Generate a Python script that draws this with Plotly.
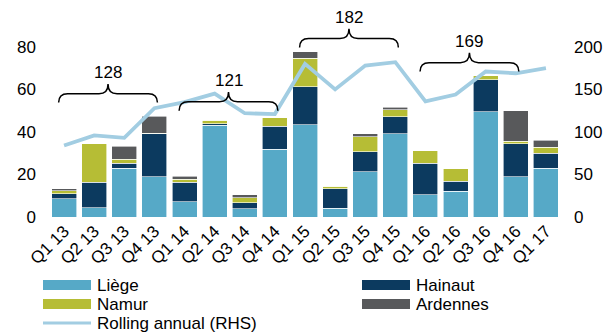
import plotly.graph_objects as go

quarters = ["Q1 13", "Q2 13", "Q3 13", "Q4 13", "Q1 14", "Q2 14", "Q3 14", "Q4 14",
            "Q1 15", "Q2 15", "Q3 15", "Q4 15", "Q1 16", "Q2 16", "Q3 16", "Q4 16", "Q1 17"]
liege = [8.5, 4.4, 22.9, 19.0, 7.2, 43.1, 3.9, 31.8, 43.5, 4.1, 21.3, 39.2, 10.5, 12.1, 49.6, 19.0, 22.9]
hainaut = [2.5, 11.9, 2.4, 20.1, 9.1, 0.8, 2.8, 10.9, 17.8, 9.2, 9.4, 7.9, 14.8, 4.7, 14.9, 15.4, 7.1]
namur = [1.4, 18.2, 1.8, 0.2, 1.4, 1.6, 2.4, 4.0, 13.4, 1.1, 7.1, 3.4, 5.9, 5.8, 2.0, 1.2, 2.9]
ardennes = [0.8, 0.0, 6.2, 8.2, 1.4, 0.0, 1.4, 0.0, 3.1, 0.0, 1.3, 1.1, 0.0, 0.0, 0.0, 14.4, 3.2]
rolling = [84, 96, 93, 128, 135, 145, 122, 121, 180, 150, 178, 182, 136, 144, 171, 169, 175]

left_ticks = [0, 20, 40, 60, 80]
right_ticks = [0, 50, 100, 150, 200]

# annual totals shown over braces: (first quarter index, last quarter index, label)
annual_groups = [(0, 3, "128"), (4, 7, "121"), (8, 11, "182"), (12, 15, "169")]
brace_tip_levels = [53.8, 50.0, 79.7, 68.4]

C_LIEGE = "#56A9C7"
C_HAINAUT = "#0C3A5F"
C_NAMUR = "#B6BD35"
C_ARD = "#58595B"
C_ROLL = "#A2CDE2"
FONT = "Liberation Sans, Arial, sans-serif"

W, H = 613, 332
ML, MR, MT, MB = 49, 52, 15, 115
PW, PH = W - ML - MR, H - MT - MB

def px(xp):
    return (xp - ML) / PW

def py(yp):
    return (H - MB - yp) / PH

x = list(range(len(quarters)))
fig = go.Figure()
edge = dict(color="rgba(255,255,255,0.75)", width=0.8)
series = [("Liège", liege, C_LIEGE), ("Hainaut", hainaut, C_HAINAUT),
          ("Namur", namur, C_NAMUR), ("Ardennes", ardennes, C_ARD)]
for name, vals, col in series:
    fig.add_trace(go.Bar(x=x, y=vals, name=name, marker=dict(color=col, line=edge),
                         showlegend=False, yaxis="y"))

fig.add_trace(go.Scatter(x=x, y=rolling, mode="lines", name="Rolling annual (RHS)",
                         line=dict(color=C_ROLL, width=3.8), yaxis="y2", showlegend=False))

shapes = []
annotations = []

# braces with annual totals
for (i0, i1, lab), tip in zip(annual_groups, brace_tip_levels):
    x0 = i0 - 0.18
    x1 = i1 + 0.1
    xm = (x0 + x1) / 2
    yh = tip + 4.2
    yp = tip + 8.8
    rx = 0.3
    path = (f"M {x0},{tip} Q {x0},{yh} {x0+rx},{yh} L {xm-rx},{yh} "
            f"Q {xm},{yh} {xm},{yp} Q {xm},{yh} {xm+rx},{yh} L {x1-rx},{yh} "
            f"Q {x1},{yh} {x1},{tip}")
    shapes.append(dict(type="path", path=path, xref="x", yref="y",
                       line=dict(color="black", width=1.5)))
    annotations.append(dict(x=xm, y=yp + 5.2, xref="x", yref="y", text=lab,
                            showarrow=False, font=dict(size=17, color="black", family=FONT)))

# legend (two columns, laid out like the original)
legend_items = [("Liège", C_LIEGE, "box", 0, 0), ("Hainaut", C_HAINAUT, "box", 1, 0),
                ("Namur", C_NAMUR, "box", 0, 1), ("Ardennes", C_ARD, "box", 1, 1),
                ("Rolling annual (RHS)", C_ROLL, "line", 0, 2)]
col_x = [43, 362]
row_y = [285, 304, 323]
sym_w = 48
for name, col, kind, c, r in legend_items:
    xs, yc = col_x[c], row_y[r]
    if kind == "box":
        shapes.append(dict(type="rect", xref="paper", yref="paper",
                           x0=px(xs), x1=px(xs + sym_w), y0=py(yc + 5), y1=py(yc - 5),
                           fillcolor=col, line=dict(width=0)))
    else:
        shapes.append(dict(type="line", xref="paper", yref="paper",
                           x0=px(xs), x1=px(xs + sym_w), y0=py(yc), y1=py(yc),
                           line=dict(color=col, width=3)))
    annotations.append(dict(x=px(xs + sym_w + 4), y=py(yc), xref="paper", yref="paper",
                            xanchor="left", yanchor="middle", text=name, showarrow=False,
                            font=dict(size=17, color="black", family=FONT)))

fig.update_layout(
    width=W, height=H,
    margin=dict(l=ML, r=MR, t=MT, b=MB, autoexpand=False),
    paper_bgcolor="white", plot_bgcolor="white",
    barmode="stack", bargap=0.17, showlegend=False,
    font=dict(family=FONT, size=17, color="black"),
    xaxis=dict(tickmode="array", tickvals=x, ticktext=quarters, tickangle=-45,
               range=[-0.5, len(quarters) - 0.5], showgrid=False, zeroline=False,
               showline=False, ticks="", tickfont=dict(size=17)),
    yaxis=dict(range=[0, 95], tickmode="array", tickvals=left_ticks, showgrid=False,
               zeroline=False, showline=False, ticks="", ticklabelstandoff=12),
    yaxis2=dict(range=[0, 237.5], tickmode="array", tickvals=right_ticks, overlaying="y",
                side="right", showgrid=False, zeroline=False, showline=False, ticks="",
                ticklabelstandoff=12),
    shapes=shapes, annotations=annotations,
)

fig.write_html("out.html")
